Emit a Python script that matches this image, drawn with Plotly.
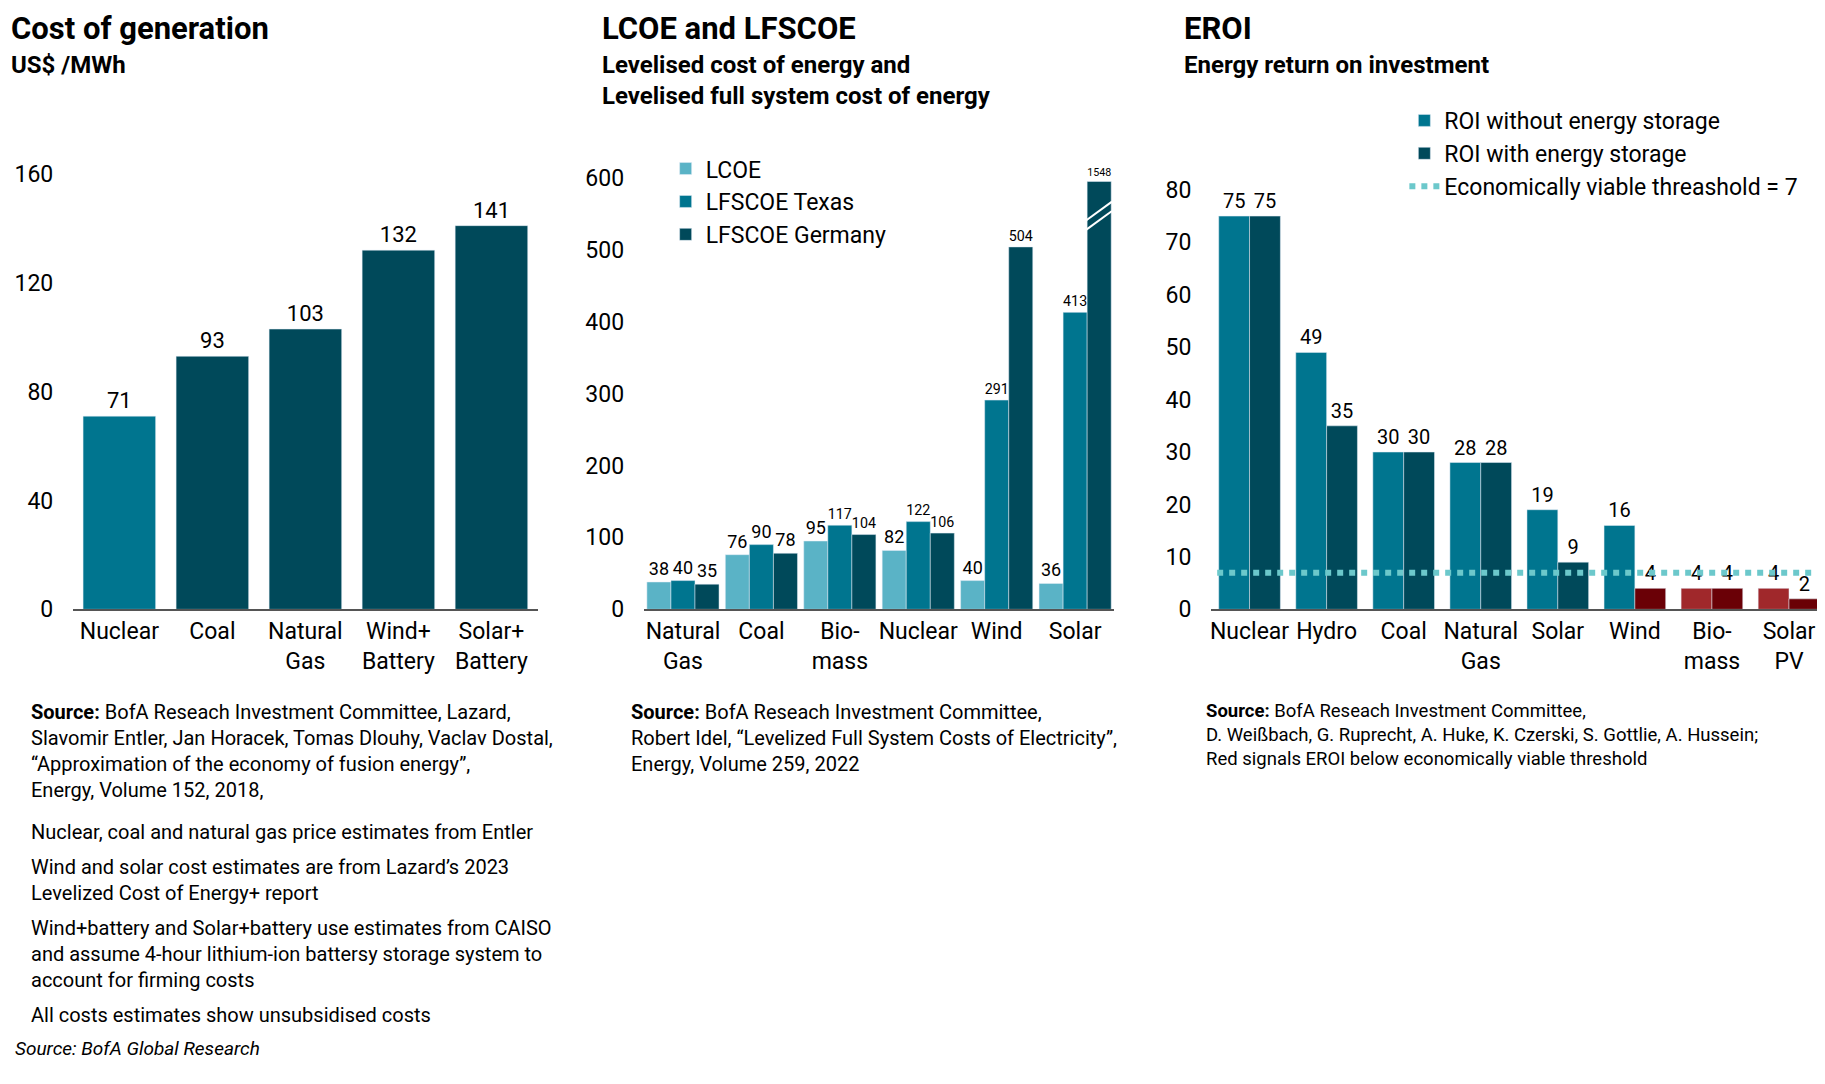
import plotly.graph_objects as go

# panel 1: cost of generation
gen_cats = ["Nuclear", "Coal", "Natural<br>Gas", "Wind+<br>Battery", "Solar+<br>Battery"]
gen_vals = [71, 93, 103, 132, 141]

# panel 2: LCOE / LFSCOE
lc_cats = ["Natural<br>Gas", "Coal", "Bio-<br>mass", "Nuclear", "Wind", "Solar"]
lcoe = [38, 76, 95, 82, 40, 36]
lfs_texas = [40, 90, 117, 122, 291, 413]
lfs_germany = [35, 78, 104, 106, 504, 1548]
axis_cap = 595

# panel 3: EROI
er_cats = ["Nuclear", "Hydro", "Coal", "Natural<br>Gas", "Solar", "Wind", "Bio-<br>mass", "Solar<br>PV"]
roi_without = [75, 49, 30, 28, 19, 16, 4, 4]
roi_with = [75, 35, 30, 28, 9, 4, 4, 2]
threshold = 7

LIGHT, MID, DARK = "#5ab3c6", "#00758f", "#00495a"
RED_L, RED_D = "#a0282b", "#6a0006"
DOTS = "#6cc8cb"
FONT = "Liberation Sans Narrow, Roboto, sans-serif"

fig = go.Figure()

fig.add_trace(go.Bar(x=gen_cats, y=gen_vals, width=0.78,
                     marker_color=[MID] + [DARK] * 4, text=gen_vals, textposition="outside",
                     textfont=dict(size=22), showlegend=False, xaxis="x", yaxis="y"))

for name, vals, col in [("LCOE", lcoe, LIGHT), ("LFSCOE Texas", lfs_texas, MID),
                        ("LFSCOE Germany", lfs_germany, DARK)]:
    fig.add_trace(go.Bar(x=lc_cats, y=[min(v, axis_cap) for v in vals], name=name,
                         marker_color=col, text=vals, textposition="outside",
                         textfont=dict(size=18), cliponaxis=False, legend="legend",
                         xaxis="x2", yaxis="y2"))

fig.add_trace(go.Bar(x=er_cats, y=roi_without, name="ROI without energy storage", width=0.4, offset=-0.4,
                     marker_color=[MID if v >= threshold else RED_L for v in roi_without],
                     text=roi_without, textposition="outside", textfont=dict(size=20),
                     legend="legend2", xaxis="x3", yaxis="y3"))
fig.add_trace(go.Bar(x=er_cats, y=roi_with, name="ROI with energy storage", width=0.4, offset=0,
                     marker_color=[DARK if v >= threshold else RED_D for v in roi_with],
                     text=roi_with, textposition="outside", textfont=dict(size=20),
                     legend="legend2", xaxis="x3", yaxis="y3"))
# legend entry for the threshold
fig.add_trace(go.Scatter(x=[None], y=[None], mode="lines", name="Economically viable threashold = 7",
                         line=dict(color=DOTS, width=6, dash="dot"),
                         legend="legend2", xaxis="x3", yaxis="y3"))
fig.add_shape(type="line", xref="x3 domain", yref="y3", x0=0.01, x1=1, y0=threshold, y1=threshold,
              line=dict(color=DOTS, width=6, dash="dot"), layer="above")

# break mark on the capped bar
fig.add_shape(type="line", xref="x2", yref="y2", x0=5.13, x1=5.47, y0=axis_cap - 55, y1=axis_cap - 28,
              line=dict(color="white", width=2))
fig.add_shape(type="line", xref="x2", yref="y2", x0=5.13, x1=5.47, y0=axis_cap - 68, y1=axis_cap - 41,
              line=dict(color="white", width=2))

ydom = [0.438, 0.88]
ax_common = dict(showgrid=False, zeroline=False, ticks="outside", ticklen=14, tickcolor="white",
                 tickfont=dict(size=23, color="black"))
xax_common = dict(showline=True, linecolor="#555555", linewidth=2, ticks="",
                  tickfont=dict(size=23, color="black"))

leg_common = dict(font=dict(size=23, color="black"), bgcolor="rgba(0,0,0,0)",
                  itemwidth=30, tracegroupgap=0, xanchor="left", yanchor="top")

fig.update_layout(
    width=1825, height=1084, plot_bgcolor="white", paper_bgcolor="white",
    margin=dict(l=0, r=0, t=0, b=0), barmode="group", bargap=0.08, bargroupgap=0,
    font=dict(family=FONT, color="black", size=22),
    xaxis=dict(domain=[0.035, 0.29], anchor="y", **xax_common),
    yaxis=dict(domain=ydom, range=[0, 173.8], tickvals=[0, 40, 80, 120, 160], anchor="x", **ax_common),
    xaxis2=dict(domain=[0.348, 0.606], anchor="y2", **xax_common),
    yaxis2=dict(domain=ydom, range=[0, 657.7], tickvals=[0, 100, 200, 300, 400, 500, 600], anchor="x2", **ax_common),
    xaxis3=dict(domain=[0.659, 0.997], anchor="y3", **xax_common),
    yaxis3=dict(domain=ydom, range=[0, 90.2], tickvals=list(range(0, 81, 10)), anchor="x3", **ax_common),
    legend=dict(x=0.36, y=0.87, **leg_common),
    legend2=dict(x=0.765, y=0.915, **leg_common),
)

def txt(x, y, s, size=21, bold=False):
    if bold:
        s = "<b>" + s + "</b>"
    fig.add_annotation(x=x, y=y, xref="paper", yref="paper", text=s, showarrow=False,
                       xanchor="left", yanchor="top", align="left", font=dict(size=size, color="black"))

txt(0.0, 1.0, "Cost of generation", 31, True)
txt(0.0, 0.962, "US$ /MWh", 24, True)
txt(0.324, 1.0, "LCOE and LFSCOE", 31, True)
txt(0.324, 0.962, "Levelised cost of energy and<br>Levelised full system cost of energy", 24, True)
txt(0.643, 1.0, "EROI", 31, True)
txt(0.643, 0.962, "Energy return on investment", 24, True)

txt(0.011, 0.355, "<b>Source:</b> BofA Reseach Investment Committee, Lazard,<br>Slavomir Entler, Jan Horacek, Tomas Dlouhy, Vaclav Dostal,<br>“Approximation of the economy of fusion energy”,<br>Energy, Volume 152, 2018,", 20)
txt(0.011, 0.243, "Nuclear, coal and natural gas price estimates from Entler", 20)
txt(0.011, 0.21, "Wind and solar cost estimates are from Lazard’s 2023<br>Levelized Cost of Energy+ report", 20)
txt(0.011, 0.153, "Wind+battery and Solar+battery use estimates from CAISO<br>and assume 4-hour lithium-ion battersy storage system to<br>account for firming costs", 20)
txt(0.011, 0.072, "All costs estimates show unsubsidised costs", 20)
txt(0.34, 0.355, "<b>Source:</b> BofA Reseach Investment Committee,<br>Robert Idel, “Levelized Full System Costs of Electricity”,<br>Energy, Volume 259, 2022", 20)
txt(0.655, 0.355, "<b>Source:</b> BofA Reseach Investment Committee,<br>D. Weißbach, G. Ruprecht, A. Huke, K. Czerski, S. Gottlie, A. Hussein;<br>Red signals EROI below economically viable threshold", 18.5)
txt(0.002, 0.04, "<i>Source: BofA Global Research</i>", 19)

fig.write_html("out.html")
